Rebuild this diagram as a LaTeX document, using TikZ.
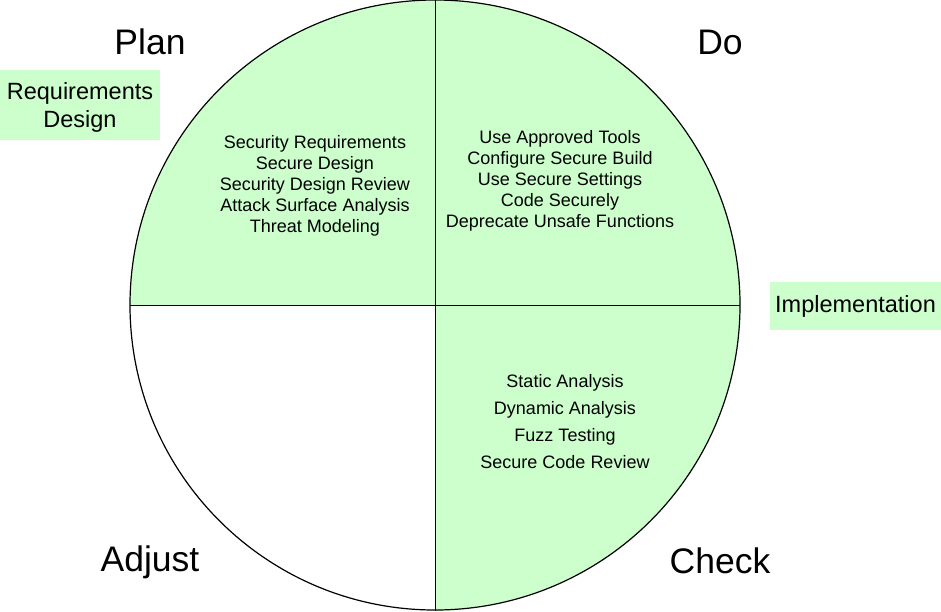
\documentclass[tikz,border=0pt]{standalone}
\usepackage{fontspec}
\setmainfont{Liberation Sans}
\definecolor{lightgreen}{HTML}{CCFFCC}

\tikzset{
  quadtext/.style={align=center, font=\fontsize{18}{21}\selectfont},
  phase/.style={font=\fontsize{35.5}{40}\selectfont},
  stagebox/.style={fill=lightgreen, align=center, font=\fontsize{23.5}{28}\selectfont}
}

\begin{document}
\begin{tikzpicture}[x=1pt, y=-1pt]
        \useasboundingbox (0,0) rectangle (941,611);
        \coordinate (c) at (435,305);

        % quadrants
        \begin{scope}
            \clip (c) circle (305pt);
            \fill[lightgreen] (130,0) rectangle (c);
            \fill[lightgreen] (c) rectangle (740,0);
            \fill[lightgreen] (c) rectangle (740,611);
        \end{scope}
        \draw[line width=1.2pt] (c) circle (305pt);
        \draw[line width=1pt] (435,0) -- (435,611);
        \draw[line width=1pt] (130,305) -- (740,305);

        \node[phase] (plan) at (150,42) {Plan};
        \node[phase] (do) at (720,42) {Do};
        \node[phase] (adjust) at (150,562) {Adjust};
        \node[phase] (check) at (720,561) {Check};

        \node[stagebox, minimum width=160pt, minimum height=70pt, inner sep=0pt] (req) at (80,105) {};
        \node[align=center, font=\fontsize{23.5}{28}\selectfont] (reqtext) at (80,107) {Requirements\\Design};
        \node[stagebox, minimum width=171pt, minimum height=48pt, inner sep=0pt] (impl) at (855.5,306) {Implementation};

        \node[quadtext] (plantext) at (315,186) {Security Requirements\\Secure Design\\Security Design Review\\Attack Surface Analysis\\Threat Modeling};
        \node[quadtext] (dotext) at (560,181) {Use Approved Tools\\Configure Secure Build\\Use Secure Settings\\Code Securely\\Deprecate Unsafe Functions};
        \node[quadtext, font=\fontsize{18}{27}\selectfont] (checktext) at (565,422) {Static Analysis\\Dynamic Analysis\\Fuzz Testing\\Secure Code Review};
    \end{tikzpicture}
\end{document}
